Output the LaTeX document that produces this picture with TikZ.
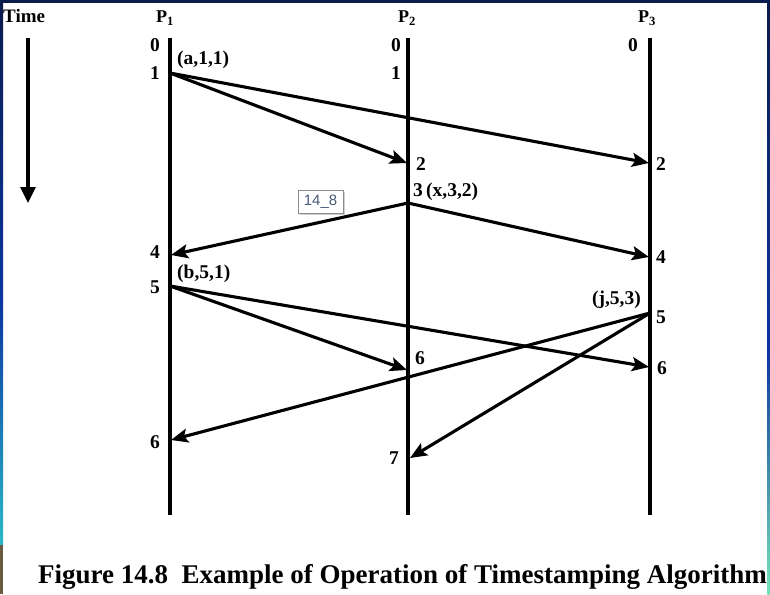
\documentclass[tikz,border=0pt]{standalone}
\usepackage{fontspec}
\setmainfont{Liberation Serif}
\newfontfamily\boxfont{Liberation Sans}
\usetikzlibrary{arrows.meta}
\definecolor{navy}{HTML}{0A1C4C}
\definecolor{midblue}{HTML}{0B35A0}
\definecolor{cyanb}{HTML}{2AB8C8}
\definecolor{brownb}{HTML}{6A5A40}
\definecolor{boxtext}{HTML}{4A5C7A}
\tikzset{
  proc/.style={line width=3.3pt},
  msg/.style={line width=3.1pt,-{Stealth[length=17pt,width=14pt,inset=3.5pt]}},
  lbl/.style={font=\bfseries\fontsize{19.5}{19.5}\selectfont,inner sep=0pt},
  hdr/.style={font=\bfseries\fontsize{18}{18}\selectfont,inner sep=0pt},
}
\begin{document}
\begin{tikzpicture}[x=1pt,y=-1pt]
\useasboundingbox (0,0) rectangle (770,594);
\fill[white] (0,0) rectangle (770,594);
% frame bars
\shade[top color=navy,bottom color=midblue] (0,0) rectangle (3,300);
\shade[top color=midblue,bottom color=cyanb] (0,300) rectangle (3,545);
\fill[brownb] (0,545) rectangle (3,594);
\shade[top color=navy,bottom color=midblue] (767,0) rectangle (770,350);
\shade[top color=midblue,bottom color=cyanb!70!green!60!white] (767,350) rectangle (770,594);
\fill[navy] (0,0) rectangle (770,3);

% headers
\node[hdr,anchor=west,font=\bfseries\fontsize{19}{19}\selectfont] (time) at (3,16) {Time};
\node[hdr] (p1) at (165,18) {P$_{\mathbf 1}$};
\node[hdr] (p2) at (407,18) {P$_{\mathbf 2}$};
\node[hdr] (p3) at (647,18) {P$_{\mathbf 3}$};

% time arrow
\coordinate (t0) at (28,38);
\coordinate (t1) at (28,203);
\draw[line width=3.3pt,-{Triangle[length=16pt,width=15pt]}] (t0) -- (t1);

% process lines
\coordinate (a0) at (170,38); \coordinate (a9) at (170,515);
\coordinate (b0) at (408,38); \coordinate (b9) at (408,515);
\coordinate (c0) at (650,38); \coordinate (c9) at (650,515);
\draw[proc] (a0) -- (a9);
\draw[proc] (b0) -- (b9);
\draw[proc] (c0) -- (c9);

% events
\coordinate (a1) at (170,73);
\coordinate (a4) at (171,255);
\coordinate (a5) at (170,286);
\coordinate (a6) at (171,440);
\coordinate (b2) at (407,163);
\coordinate (b3) at (408,203);
\coordinate (b6) at (407,370);
\coordinate (b7) at (410,458);
\coordinate (c2) at (649,163);
\coordinate (c4) at (649,257);
\coordinate (c5) at (650,313);
\coordinate (c6) at (649,367);

% messages
\draw[msg] (a1) -- (b2);
\draw[msg] (a1) -- (c2);
\draw[msg] (b3) -- (a4);
\draw[msg] (b3) -- (c4);
\draw[msg] (a5) -- (b6);
\draw[msg] (a5) -- (c6);
\draw[msg] (c5) -- (a6);
\draw[msg] (c5) -- (b7);

% labels
\node[lbl] (l10) at (155,45) {0};
\node[lbl] (l11) at (155,73) {1};
\node[lbl,anchor=west] (la) at (177,60) {(a,1,1)};
\node[lbl] (l14) at (155,252) {4};
\node[lbl] (l15) at (155,287) {5};
\node[lbl,anchor=west] (lb) at (177,274) {(b,5,1)};
\node[lbl] (l16) at (155,442) {6};

\node[lbl] (l20) at (396,45) {0};
\node[lbl] (l21) at (396,73) {1};
\node[lbl] (l22) at (421,164) {2};
\node[lbl,anchor=west] (lx) at (413,192) {3\,(x,3,2)};
\node[lbl] (l26) at (420,358) {6};
\node[lbl] (l27) at (394,458) {7};

\node[lbl] (l30) at (633,45) {0};
\node[lbl] (l32) at (661,164) {2};
\node[lbl] (l34) at (661,257) {4};
\node[lbl] (l35) at (661,317) {5};
\node[lbl,anchor=east] (lj) at (641,300) {(j,5,3)};
\node[lbl] (l36) at (662,368) {6};

% tooltip box
\fill[black!18] (300,192) rectangle (345,215);
\node[draw=black!45,fill=white,line width=0.8pt,minimum width=45pt,minimum height=23pt,inner sep=0pt,
  font=\boxfont\fontsize{15}{15}\selectfont,text=boxtext] (tip) at (320.5,201.5) {14\_8};

% caption
\node[font=\bfseries\fontsize{27}{27}\selectfont,anchor=east,inner sep=0pt] (cap) at (767,577)
  {Figure 14.8\ \ Example of Operation of Timestamping Algorithm};
\end{tikzpicture}
\end{document}
